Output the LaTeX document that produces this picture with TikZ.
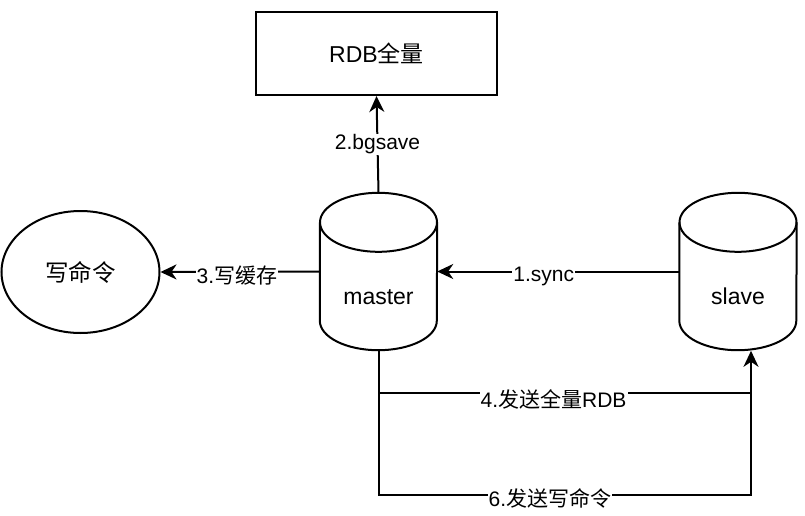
\documentclass[tikz,border=0pt]{standalone}
\usepackage{fontspec}
\setmainfont{Liberation Sans}
\newfontfamily\cjk{Noto Sans CJK SC}
\usetikzlibrary{arrows.meta,calc,shapes.geometric}
\tikzset{
  ln/.style={line width=2pt, draw=black},
  arr/.style={ln, -{Stealth[length=16pt,width=15pt,inset=5pt]}},
  boxnode/.style={draw, line width=2pt, minimum width=241pt, minimum height=83pt, inner sep=0pt, font=\fontsize{23}{27}\selectfont},
  ellnode/.style={draw, ellipse, line width=2pt, minimum width=158pt, minimum height=122pt, inner sep=0pt, font=\fontsize{23.5}{27}\selectfont},
  dbnode/.style={inner sep=0pt, minimum width=117pt, text height=111pt, text depth=46pt, font=\fontsize{23}{27}\selectfont},
  lbl/.style={fill=white, inner sep=1pt, font=\fontsize{21}{25}\selectfont},
}
\newcommand{\dbshape}[1]{%
  \draw[ln] ($(#1.north)+(0,29.5)$) ellipse [x radius=58.5, y radius=29.5];
  \draw[ln] ($(#1.north west)+(0,29.5)$) -- ($(#1.south west)+(0,-29.5)$)
    arc[start angle=180, end angle=0, x radius=58.5, y radius=29.5]
    -- ($(#1.north east)+(0,29.5)$);
}
\begin{document}
\begin{tikzpicture}[x=1pt,y=-1pt]
\useasboundingbox (0,0) rectangle (805,516);
\fill[white] (0,0) rectangle (805,516);

\node[boxnode] (rdb) at (376.5,53.5) {RDB{\cjk 全量}};
\node[ellnode] (w) at (80.5,272) {{\cjk 写命令}};
\node[dbnode] (m) at (378.5,271.5) {master};
\node[dbnode] (s) at (738,271.5) {slave};
\dbshape{m}
\dbshape{s}

\coordinate (sb) at ($(s.south)+(13,0.6)$);
\coordinate (j4) at (sb |- 0,393);
\coordinate (j6) at (sb |- 0,495);

\draw[arr] (m.north) -- (rdb.south) node[midway, lbl] {2.bgsave};
\draw[arr] (m.west) -- (w.east) node[pos=0.52, lbl, yshift=-4pt] {3.{\cjk 写缓存}};
\draw[arr] (s.west) -- (m.east) node[pos=0.56, lbl, yshift=-5pt] {1.sync};
\draw[arr] (m.south) |- (j4) -- (sb);
\draw[ln] (m.south |- j4) -- (j6 -| m.south) -- (j6) -- (j4);
\path (m.south |- j4) -- (j4) node[pos=0.47, lbl, yshift=-6pt] {4.{\cjk 发送全量}RDB};
\path (m.south |- j6) -- (j6) node[pos=0.46, lbl, yshift=-3pt] {6.{\cjk 发送写命令}};
\end{tikzpicture}
\end{document}
